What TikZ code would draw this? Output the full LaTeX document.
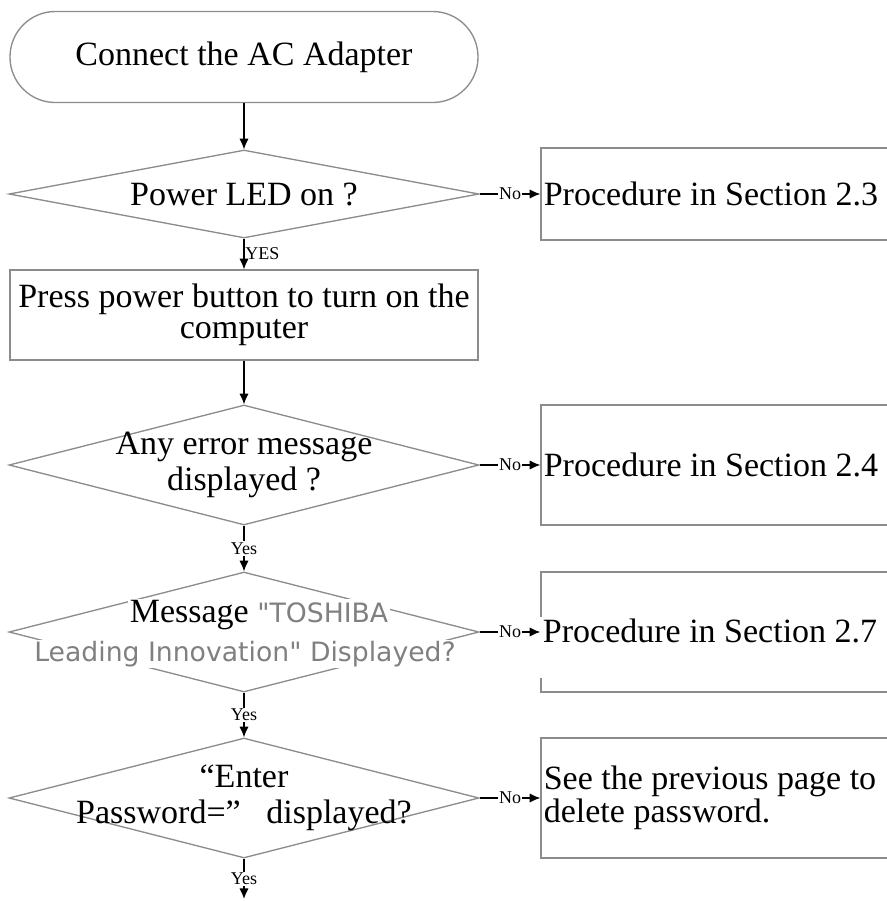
\documentclass[tikz,border=0pt]{standalone}
\usepackage{fontspec}
\setmainfont{Liberation Serif}
\newfontfamily\toshfont{DejaVu Sans}
\usetikzlibrary{shapes,positioning,arrows.meta}
\tikzset{>={Latex[length=8pt,width=7pt]}}
\definecolor{edgegray}{gray}{0.55}
\definecolor{toshgray}{gray}{0.5}
\tikzset{
  start/.style={draw=edgegray, line width=1pt, rounded corners=34pt,
    minimum width=351pt, minimum height=68.25pt, font=\fontsize{25.5}{29}\selectfont},
  decision/.style={draw=edgegray, line width=1pt, diamond, minimum width=352.5pt, inner sep=0pt},
  process/.style={draw=edgegray, line width=1pt, minimum width=351pt, minimum height=67.5pt,
    align=center, inner sep=1pt, font=\fontsize{25.5}{23}\selectfont},
  sidebox/.style={draw=edgegray, line width=1pt, minimum width=269.25pt, text width=265pt,
    align=flush left, inner xsep=2pt, font=\fontsize{25.5}{25}\selectfont},
  question/.style={align=center, inner sep=1pt, font=\fontsize{25.5}{26.5}\selectfont},
  answer/.style={font=\fontsize{13.5}{13.5}\selectfont, fill=white, inner sep=1pt},
  flow/.style={->, line width=1pt}
}
\begin{document}
\begin{tikzpicture}[x=0.75pt,y=-0.75pt]
\useasboundingbox (0,0) rectangle (887,901);

% main column
\node[start] (adapter) at (244,57) {Connect the AC Adapter};
\node[decision, minimum height=66pt] (d1) at (244,194) {};
\node[question] (q1) at (d1) {Power LED on ?};
\node[process] (power) at (244,315) {Press power button to turn on the\\computer};
\node[decision, minimum height=90pt] (d2) at (244,465) {};
\node[question] (q2) at (d2) {Any error message\\displayed ?};
\node[decision, minimum height=90pt] (d3) at (244,632) {};
\node[question, fill=white] (q3a) at (259,615) {Message \textcolor{toshgray}{\toshfont\fontsize{20}{24}\selectfont "TOSHIBA}};
\node[question, fill=white, font=\toshfont\fontsize{20}{24}\selectfont, text=toshgray] (q3b) at (245,654) {Leading Innovation" Displayed?};
\node[decision, minimum height=90pt] (d4) at (244,798) {};
\node[question] (q4) at (d4) {“Enter\\Password=”~~ displayed?};
\coordinate (next) at (244,899);

% right column
\node[sidebox, minimum height=69pt] (s1) at (720.5,194) {Procedure in Section 2.3};
\node[sidebox, minimum height=90pt] (s2) at (720.5,465) {Procedure in Section 2.4};
\node[sidebox, minimum height=90pt] (s3) at (720.5,632) {};
\node[fill=white, anchor=base west, inner xsep=2pt, inner ysep=0pt, text height=18.75pt,
  text depth=27pt, font=\fontsize{25.5}{25}\selectfont] (s3t) at (540,642) {Procedure in Section 2.7};
\node[sidebox, minimum height=90pt] (s4) at (720.5,798) {See the previous page to\\delete password.};

% connectors
\draw[flow] (adapter) -- (d1);
\draw[flow] (d1) -- node[answer, right, fill=none, inner sep=0.5pt] {YES} (power);
\draw[flow] (power) -- (d2);
\draw[flow] (d2) -- node[answer] {Yes} (d3);
\draw[flow] (d3) -- node[answer] {Yes} (d4);
\draw[flow] (d4) -- node[answer] {Yes} (next);
\draw[flow] (d1) -- node[answer] {No} (s1);
\draw[flow] (d2) -- node[answer] {No} (s2);
\draw[flow] (d3) -- node[answer] {No} (s3);
\draw[flow] (d4) -- node[answer] {No} (s4);

\end{tikzpicture}
\end{document}
